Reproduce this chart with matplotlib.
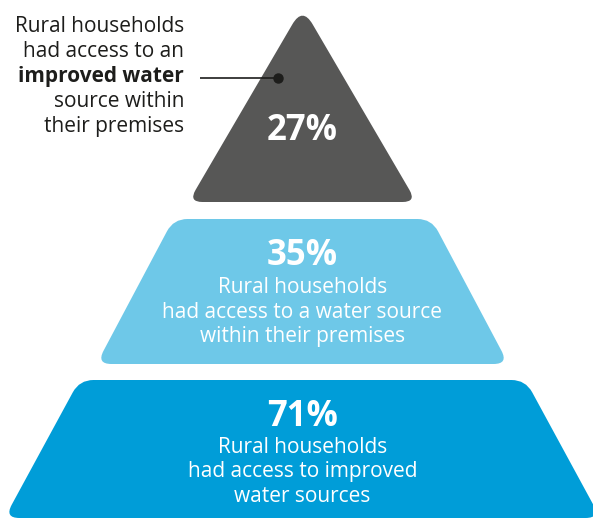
import matplotlib
matplotlib.use("Agg")
import matplotlib.pyplot as plt
from matplotlib.path import Path
from matplotlib.patches import PathPatch
import numpy as np

plt.rcParams['font.family'] = ['Open Sans', 'DejaVu Sans']

# ---- data ----
values = [27, 35, 71]
tier_colors = ["#575756", "#6EC8E8", "#009DD8"]
middle_desc = ["Rural households", "had access to a water source", "within their premises"]
bottom_desc = ["Rural households", "had access to improved", "water sources"]
callout_lines = ["Rural households", "had access to an", "improved water", "source within", "their premises"]
callout_bold = [False, False, True, False, False]

# ---- layout (pixel space, y downwards) ----
W, H = 593, 519
CX = 302.5
fig = plt.figure(figsize=(W / 100, H / 100), dpi=100)
ax = fig.add_axes([0, 0, 1, 1])
ax.set_xlim(0, W)
ax.set_ylim(H, 0)
ax.axis("off")


def rounded_polygon(pts, radii):
    pts = np.asarray(pts, float)
    n = len(pts)
    verts, codes = [], []
    for i in range(n):
        p = pts[i]
        prev = pts[i - 1]
        nxt = pts[(i + 1) % n]
        r = radii[i]
        d1 = (prev - p) / np.linalg.norm(prev - p)
        d2 = (nxt - p) / np.linalg.norm(nxt - p)
        a = p + d1 * r
        b = p + d2 * r
        if i == 0:
            verts.append(a); codes.append(Path.MOVETO)
        else:
            verts.append(a); codes.append(Path.LINETO)
        verts.extend([p, b]); codes.extend([Path.CURVE3, Path.CURVE3])
    verts.append(verts[0]); codes.append(Path.CLOSEPOLY)
    return Path(verts, codes)


# tier geometry: (top_y, top_half, bottom_y, bottom_half)
tiers = [(7, 0, 202, 114), (219, 129, 364, 206), (380, 223, 518, 298)]
for (ty, th, by, bh), col in zip(tiers, tier_colors):
    if th == 0:
        pts = [(CX, ty), (CX + bh, by), (CX - bh, by)]
        radii = [20, 14, 14]
    else:
        pts = [(CX - th, ty), (CX + th, ty), (CX + bh, by), (CX - bh, by)]
        radii = [14, 14, 15, 15]
    ax.add_patch(PathPatch(rounded_polygon(pts, radii), facecolor=col,
                           edgecolor="none"))

# percentage labels
pct_base = [140, 265, 426]
for v, yb in zip(values, pct_base):
    ax.text(CX, yb, f"{v}%", ha="center", va="baseline", color="white",
            fontsize=25, fontweight="bold")

# tier descriptions
for lines, b0 in ((middle_desc, 293), (bottom_desc, 453)):
    for k, line in enumerate(lines):
        ax.text(CX, b0 + 24.5 * k, line, ha="center", va="baseline",
                color="white", fontsize=15)

# callout
for k, (line, bold) in enumerate(zip(callout_lines, callout_bold)):
    ax.text(184, 32 + 25 * k, line, ha="right", va="baseline", color="#1d1d1b",
            fontsize=15, fontweight="bold" if bold else "normal")
ax.plot([200, 278], [77.5, 77.5], color="#1d1d1b", lw=1.2, solid_capstyle="butt")
ax.plot([278], [77.5], "o", color="#1d1d1b", ms=6.5)

fig.savefig("out.png", dpi=100)
